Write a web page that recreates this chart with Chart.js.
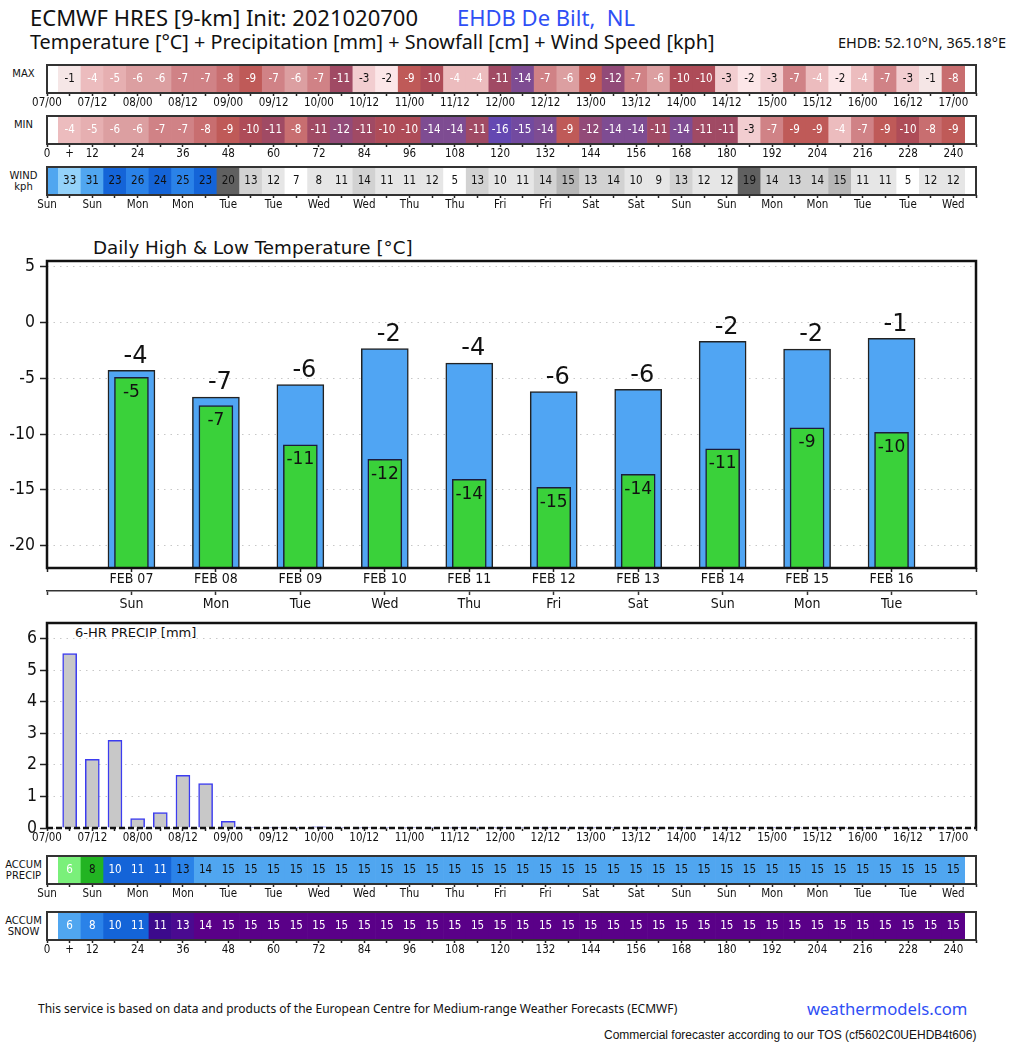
<!DOCTYPE html>
<html>
<head>
<meta charset="utf-8">
<script src="https://cdn.jsdelivr.net/npm/chart.js@4.4.1/dist/chart.umd.min.js"></script>
<style>
  body { margin: 0; background: #fff; width: 1024px; height: 1044px; position: relative; overflow: hidden; font-family: 'Noto Sans', sans-serif; color: #111; }
  .t { position: absolute; white-space: nowrap; line-height: 1; }
  canvas { position: absolute; left: 0; }
  .side { position: absolute; left: 0; width: 47px; text-align: center; font-family: 'DejaVu Sans', sans-serif; font-size: 10px; line-height: 11px; color: #111; }
</style>
</head>
<body>
<div class="t" style="left:30px;top:6px;font-size:22px;">ECMWF HRES [9-km] Init: 2021020700</div>
<div class="t" style="left:457px;top:6px;font-size:22px;color:#2f4ff5;">EHDB De Bilt,&nbsp; NL</div>
<div class="t" style="left:30px;top:32px;font-size:19.8px;">Temperature [°C] + Precipitation [mm] + Snowfall [cm] + Wind Speed [kph]</div>
<div class="t" style="left:838px;top:35px;font-size:14.5px;">EHDB: 52.10°N, 365.18°E</div>

<div class="side" style="top:68px;">MAX</div>
<div class="side" style="top:119px;">MIN</div>
<div class="side" style="top:170px;">WIND<br>kph</div>
<div class="side" style="top:859px;">ACCUM<br>PRECIP</div>
<div class="side" style="top:915px;">ACCUM<br>SNOW</div>

<div class="t" style="left:93px;top:239px;font-size:18.3px;font-family:'DejaVu Sans',sans-serif;">Daily High &amp; Low Temperature [°C]</div>
<div class="t" style="left:75px;top:626px;font-size:13px;font-family:'DejaVu Sans',sans-serif;">6-HR PRECIP [mm]</div>

<canvas id="cMax" width="1024" height="53" style="top:60px"></canvas>
<canvas id="cMin" width="1024" height="53" style="top:111px"></canvas>
<canvas id="cWind" width="1024" height="53" style="top:162px"></canvas>
<canvas id="cTemp" width="1024" height="361" style="top:254px"></canvas>
<canvas id="cPrecip" width="1024" height="231" style="top:617px"></canvas>
<canvas id="cAccP" width="1024" height="53" style="top:851px"></canvas>
<canvas id="cAccS" width="1024" height="53" style="top:907px"></canvas>

<div class="t" style="left:38px;top:1003px;font-size:12px;">This service is based on data and products of the European Centre for Medium-range Weather Forecasts (ECMWF)</div>
<div class="t" style="left:807px;top:1001px;font-size:16.7px;color:#2f4ff5;">weathermodels.com</div>
<div class="t" style="left:604px;top:1029px;font-size:12px;font-family:'Liberation Sans',Arial,sans-serif;">Commercial forecaster according to our TOS (cf5602C0UEHDB4t606)</div>

<script>
// forecast hours (6-hourly steps after init)
const hours = [6, 12, 18, 24, 30, 36, 42, 48, 54, 60, 66, 72, 78, 84, 90, 96, 102, 108, 114, 120,
  126, 132, 138, 144, 150, 156, 162, 168, 174, 180, 186, 192, 198, 204, 210, 216, 222, 228, 234, 240];

const maxTemp = [-1, -4, -5, -6, -6, -7, -7, -8, -9, -7, -6, -7, -11, -3, -2, -9, -10, -4, -4, -11,
  -14, -7, -6, -9, -12, -7, -6, -10, -10, -3, -2, -3, -7, -4, -2, -4, -7, -3, -1, -8];
const minTemp = [-4, -5, -6, -6, -7, -7, -8, -9, -10, -11, -8, -11, -12, -11, -10, -10, -14, -14, -11, -16,
  -15, -14, -9, -12, -14, -14, -11, -14, -11, -11, -3, -7, -9, -9, -4, -7, -9, -10, -8, -9];

// wind starts at hour 0
const windHours = [0].concat(hours);
const windSpeed = [30, 33, 31, 23, 26, 24, 25, 23, 20, 13, 12, 7, 8, 11, 14, 11, 11, 12, 5, 13, 10,
  11, 14, 15, 13, 14, 10, 9, 13, 12, 12, 19, 14, 13, 14, 15, 11, 11, 5, 12, 12];

const precip6h = [5.53, 2.18, 2.78, 0.30, 0.49, 1.67, 1.41, 0.21, 0.02, 0.02, 0.02, 0.04, 0.02, 0.02, 0.02, 0.02,
  0.02, 0.02, 0.02, 0.02, 0.02, 0.02, 0.02, 0.02, 0.02, 0.02, 0.02, 0.02, 0.02, 0.02, 0.02, 0.02,
  0.02, 0.02, 0.02, 0.02, 0.02, 0.02, 0.02, 0.02];
const accumPrecip = [5.6, 7.8, 10.4, 10.9, 11.4, 13.0, 14.4, 14.6, 15, 15, 15, 15, 15, 15, 15, 15, 15, 15, 15, 15,
  15, 15, 15, 15, 15, 15, 15, 15, 15, 15, 15, 15, 15, 15, 15, 15, 15, 15, 15, 15];
const accumSnow = [5.6, 8.0, 10.3, 10.9, 11.4, 12.9, 14.3, 14.6, 15, 15, 15, 15, 15, 15, 15, 15, 15, 15, 15, 15,
  15, 15, 15, 15, 15, 15, 15, 15, 15, 15, 15, 15, 15, 15, 15, 15, 15, 15, 15, 15];

// tick labels every 12 h
const timeLabels = ['07/00', '07/12', '08/00', '08/12', '09/00', '09/12', '10/00', '10/12', '11/00', '11/12', '12/00',
  '12/12', '13/00', '13/12', '14/00', '14/12', '15/00', '15/12', '16/00', '16/12', '17/00'];
const dayLabels = ['Sun', 'Sun', 'Mon', 'Mon', 'Tue', 'Tue', 'Wed', 'Wed', 'Thu', 'Thu', 'Fri',
  'Fri', 'Sat', 'Sat', 'Sun', 'Sun', 'Mon', 'Mon', 'Tue', 'Tue', 'Wed'];
const hourLabels = ['0', '12', '24', '36', '48', '60', '72', '84', '96', '108', '120',
  '132', '144', '156', '168', '180', '192', '204', '216', '228', '240'];

// daily high / low
const dayDates = ['FEB 07', 'FEB 08', 'FEB 09', 'FEB 10', 'FEB 11', 'FEB 12', 'FEB 13', 'FEB 14', 'FEB 15', 'FEB 16'];
const dayNames = ['Sun', 'Mon', 'Tue', 'Wed', 'Thu', 'Fri', 'Sat', 'Sun', 'Mon', 'Tue'];
const dayPos = [1, 2, 3, 4, 5, 6, 7, 8, 9, 10];
const dailyHigh = [-4.3, -6.7, -5.56, -2.35, -3.65, -6.2, -6.0, -1.7, -2.4, -1.43];
const dailyLow = [-4.93, -7.44, -10.97, -12.26, -14.05, -14.77, -13.6, -11.33, -9.45, -9.84];

const tempTicks = [-20, -15, -10, -5, 0, 5];
const precipTicks = [0, 1, 2, 3, 4, 5, 6];

const CONDENSED = "'DejaVu Sans Condensed', 'DejaVu Sans', sans-serif";
const DEJAVU = "'DejaVu Sans', sans-serif";

const tempColors = {
  '-1': '#f5e6e6', '-2': '#fce6e8', '-3': '#f2cdd0', '-4': '#ecbcbe', '-5': '#e6afb1', '-6': '#dc9fa1',
  '-7': '#d08286', '-8': '#c86e70', '-9': '#bf5a58', '-10': '#ae4c58', '-11': '#a04a64', '-12': '#924a78',
  '-13': '#884c86', '-14': '#7e4c92', '-15': '#724aa0', '-16': '#6448b2'
};
function tempFill(v) { return tempColors[String(v)] || '#ffffff'; }
function tempText(v) { return v >= -3 ? '#111111' : '#ffffff'; }

function windFill(v) {
  if (v <= 7) return '#ffffff';
  if (v <= 12) return '#e6e6e6';
  if (v <= 14) return '#d2d2d2';
  if (v <= 17) return '#b6b6b6';
  if (v <= 21) return '#606060';
  if (v <= 24) return '#1464d8';
  if (v <= 28) return '#2a82e8';
  if (v <= 32) return '#50a6f0';
  return '#94d2fa';
}
function precipFill(v) {
  if (v < 7) return '#7af07a';
  if (v < 9) return '#22b422';
  if (v < 12) return '#1464d8';
  if (v < 13.5) return '#2a82e8';
  return '#50a6f0';
}
function precipText(v) {
  if (v < 7) return '#ffffff';
  if (v < 9) return '#111111';
  if (v < 12) return '#ffffff';
  return '#111111';
}
function snowFill(v) {
  if (v < 7) return '#50a6f0';
  if (v < 9) return '#2a82e8';
  if (v < 11.2) return '#1464d8';
  if (v < 12) return '#3c0a8c';
  if (v < 13.5) return '#4a0a90';
  return '#5a0088';
}

function timeTick(v) { v = Math.round(v); return v % 12 === 0 ? timeLabels[v / 12] : ''; }
function dayTick(v) { v = Math.round(v); return v % 12 === 0 ? dayLabels[v / 12] : ''; }
function hourTick(v) { v = Math.round(v); if (v === 6) return '+'; return v % 12 === 0 ? hourLabels[v / 12] : ''; }

// y axis: fixed width, no extra label padding so the plot box stays put
function fixY(list) {
  return {
    afterBuildTicks: s => { s.ticks = list.map(v => ({ value: v })); },
    afterFit: s => { s.width = 47; s.paddingTop = 0; s.paddingBottom = 0; }
  };
}

// outline round the plot area
const framePlugin = {
  id: 'frame',
  afterDraw(chart, args, opts) {
    const ctx = chart.ctx, a = chart.chartArea;
    ctx.save();
    ctx.strokeStyle = opts.color || '#222';
    ctx.lineWidth = opts.width || 2;
    ctx.beginPath();
    ctx.moveTo(a.left, a.bottom);
    ctx.lineTo(a.left, a.top);
    ctx.lineTo(a.right, a.top);
    ctx.lineTo(a.right, a.bottom);
    if (!opts.dashedBottom) ctx.closePath();
    ctx.stroke();
    if (opts.dashedBottom) {
      ctx.setLineDash([6, 3]);
      ctx.strokeStyle = '#111';
      ctx.beginPath();
      ctx.moveTo(a.left, a.bottom);
      ctx.lineTo(a.right, a.bottom);
      ctx.stroke();
    }
    ctx.restore();
  }
};

// numbers on the bars
const barText = {
  id: 'barText',
  afterDatasetsDraw(chart) {
    const ctx = chart.ctx;
    chart.data.datasets.forEach((ds, di) => {
      if (!ds.textLabels) return;
      const meta = chart.getDatasetMeta(di);
      ctx.save();
      ctx.font = ds.textFont;
      ctx.textAlign = 'center';
      ctx.textBaseline = 'middle';
      meta.data.forEach((bar, i) => {
        const txt = ds.textLabels[i];
        if (txt === '') return;
        ctx.fillStyle = Array.isArray(ds.textColors) ? ds.textColors[i] : (ds.textColors || '#111');
        const y = ds.textMid ? (bar.y + bar.base) / 2 + 0.5 : bar.y + ds.textDy;
        ctx.fillText(txt, bar.x + (ds.textDx || 0), y);
      });
      ctx.restore();
    });
  }
};

function stripChart(id, xs, fills, labels, textColors, tickFn) {
  return new Chart(document.getElementById(id), {
    type: 'bar',
    data: {
      datasets: [{
        data: xs.map(x => ({ x: x, y: [0, 1] })),
        backgroundColor: fills,
        borderWidth: 0,
        barPercentage: 1,
        categoryPercentage: 1,
        textLabels: labels,
        textColors: textColors,
        textFont: '11.5px ' + CONDENSED,
        textMid: true
      }]
    },
    options: {
      responsive: false,
      animation: false,
      events: [],
      layout: { padding: { left: 47, right: 48, top: 5, bottom: 0 } },
      plugins: { legend: { display: false }, tooltip: { enabled: false }, frame: { color: '#333', width: 2 } },
      scales: {
        x: {
          type: 'linear', min: 0, max: 246, offset: false,
          grid: { offset: false, drawOnChartArea: false, drawTicks: true, tickLength: 3, tickColor: '#222', tickWidth: 1.5 },
          border: { display: false },
          ticks: { stepSize: 6, autoSkip: false, maxRotation: 0, padding: 0, color: '#111',
                   font: { family: CONDENSED, size: 11.5 }, callback: tickFn },
          afterFit: s => { s.height = 20; }
        },
        y: { display: false, min: 0, max: 1 }
      }
    },
    plugins: [framePlugin, barText]
  });
}

stripChart('cMax', hours, maxTemp.map(tempFill), maxTemp.map(String), maxTemp.map(tempText), timeTick);
stripChart('cMin', hours, minTemp.map(tempFill), minTemp.map(String), minTemp.map(tempText), hourTick);
stripChart('cWind', windHours, windSpeed.map(windFill),
  windSpeed.map((v, i) => windHours[i] === 0 ? '' : String(v)), '#111', dayTick);
stripChart('cAccP', hours, accumPrecip.map(precipFill), accumPrecip.map(v => String(Math.round(v))),
  accumPrecip.map(precipText), dayTick);
stripChart('cAccS', hours, accumSnow.map(snowFill), accumSnow.map(v => String(Math.round(v))), '#ffffff', hourTick);

// daily high & low temperature
new Chart(document.getElementById('cTemp'), {
  type: 'bar',
  data: {
    datasets: [
      {
        data: dayPos.map((x, i) => ({ x: x, y: dailyLow[i] })),
        base: -22,
        grouped: false,
        barThickness: 34,
        backgroundColor: '#3ad13a',
        borderColor: '#1c1c3c',
        borderWidth: 1.5,
        textLabels: dailyLow.map(v => String(Math.round(v))),
        textColors: '#111',
        textFont: '17px ' + DEJAVU,
        textDy: 15
      },
      {
        data: dayPos.map((x, i) => ({ x: x, y: dailyHigh[i] })),
        base: -22,
        grouped: false,
        barThickness: 47,
        backgroundColor: '#50a5f3',
        borderColor: '#222',
        borderWidth: 1.5,
        textLabels: dailyHigh.map(v => String(Math.round(v))),
        textColors: '#111',
        textFont: '24px ' + DEJAVU,
        textDy: -14,
        textDx: 4
      }
    ]
  },
  options: {
    responsive: false,
    animation: false,
    events: [],
    layout: { padding: { left: 0, right: 48, top: 7, bottom: 0 } },
    plugins: { legend: { display: false }, tooltip: { enabled: false }, frame: { color: '#111', width: 2.5 } },
    scales: {
      x: {
        type: 'linear', min: 0, max: 11, offset: false, weight: 0,
        grid: { offset: false, drawOnChartArea: false, tickLength: 4, tickColor: '#222', tickWidth: 1.5 },
        border: { display: false },
        ticks: { stepSize: 1, autoSkip: false, maxRotation: 0, padding: -1, color: '#111',
                 font: { family: CONDENSED, size: 14 },
                 callback: v => (v >= 1 && v <= 10) ? dayDates[v - 1] : '' },
        afterFit: s => { s.height = 23; }
      },
      x2: {
        type: 'linear', axis: 'x', position: 'bottom', min: 0, max: 11, offset: false, weight: 1,
        grid: { offset: false, drawOnChartArea: false, tickLength: 4, tickColor: '#333', tickWidth: 1.5 },
        border: { display: true, color: '#333', width: 1.5 },
        ticks: { stepSize: 1, autoSkip: false, maxRotation: 0, padding: 1, color: '#111',
                 font: { family: CONDENSED, size: 14 },
                 callback: v => (v >= 1 && v <= 10) ? dayNames[v - 1] : '' },
        afterFit: s => { s.height = 24; }
      },
      y: Object.assign({
        min: -22, max: 5.5,
        grid: { color: '#c8c8c8', lineWidth: 1, tickColor: '#222', tickLength: 7, tickWidth: 1.5 },
        border: { display: false, dash: [1.5, 5] },
        ticks: { padding: 5, color: '#111', font: { family: CONDENSED, size: 17.5 } }
      }, fixY(tempTicks))
    }
  },
  plugins: [framePlugin, barText]
});

// 6-hourly precipitation
new Chart(document.getElementById('cPrecip'), {
  type: 'bar',
  data: {
    datasets: [{
      data: hours.map((h, i) => ({ x: h, y: precip6h[i] })),
      barThickness: 14,
      backgroundColor: '#c8c8c8',
      borderColor: '#3c3cf0',
      borderWidth: 1.5
    }]
  },
  options: {
    responsive: false,
    animation: false,
    events: [],
    layout: { padding: { left: 0, right: 48, top: 6, bottom: 0 } },
    plugins: { legend: { display: false }, tooltip: { enabled: false }, frame: { color: '#111', width: 2.5, dashedBottom: true } },
    scales: {
      x: {
        type: 'linear', min: 0, max: 246, offset: false,
        grid: { offset: false, drawOnChartArea: false, tickLength: 3, tickColor: '#222', tickWidth: 1.5 },
        border: { display: false },
        ticks: { stepSize: 6, autoSkip: false, maxRotation: 0, padding: 0, color: '#111',
                 font: { family: CONDENSED, size: 11.5 }, callback: timeTick },
        afterFit: s => { s.height = 20; }
      },
      y: Object.assign({
        min: 0, max: 6.5,
        grid: { color: '#c8c8c8', lineWidth: 1, tickColor: '#222', tickLength: 7, tickWidth: 1.5 },
        border: { display: false, dash: [1.5, 5] },
        ticks: { padding: 3, color: '#111', font: { family: CONDENSED, size: 17.5 } }
      }, fixY(precipTicks))
    }
  },
  plugins: [framePlugin]
});
</script>
</body>
</html>
